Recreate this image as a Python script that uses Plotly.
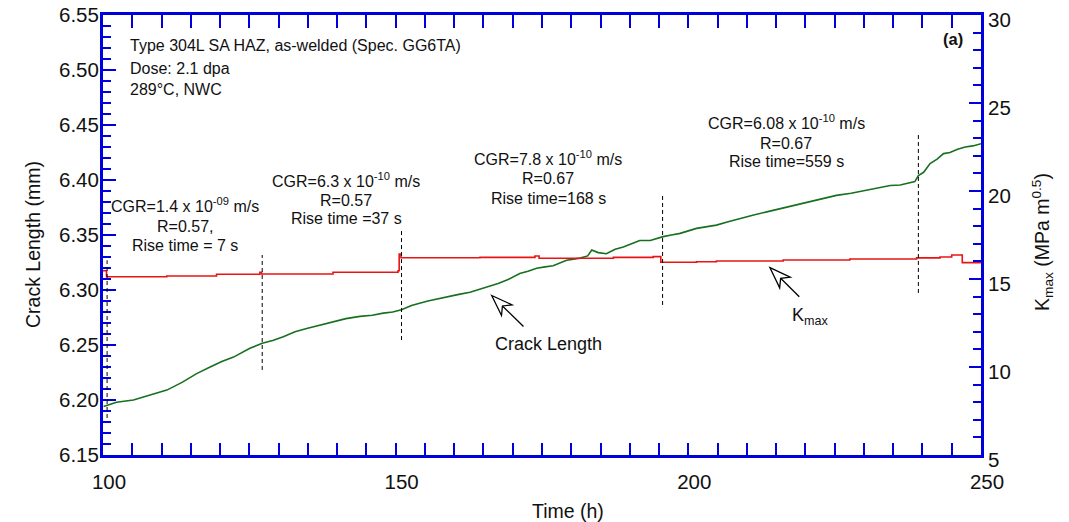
import math
import plotly.graph_objects as go

# ---------------- data ----------------
crack_time = [100.1, 102.3, 105.2, 108.0, 110.9, 113.5, 116.0, 118.3, 120.3, 122.3,
              125.1, 127.2, 129.0, 130.8, 132.8, 134.8, 137.0, 139.3, 141.5, 143.9,
              146.0, 147.9, 149.5, 151.0, 152.7, 155.5, 158.7, 160.8, 162.7, 164.5,
              166.1, 167.5, 169.0, 171.2, 172.6, 174.1, 175.5, 176.9, 179.2, 181.5,
              182.8, 183.5, 184.6, 186.0, 187.5, 188.9, 190.3, 191.7, 193.5, 195.7,
              197.1, 198.6, 201.4, 204.8, 206.8, 208.8, 211.0, 213.4, 215.7, 217.9,
              221.9, 225.3, 227.8, 230.5, 232.5, 234.5, 236.2, 238.7, 239.3, 240.2,
              241.3, 242.5, 243.6, 244.7, 246.0, 247.3, 248.6, 250.0]
crack_mm = [6.194, 6.198, 6.200, 6.2045, 6.209, 6.216, 6.224, 6.230, 6.235, 6.239,
            6.247, 6.2516, 6.254, 6.2576, 6.262, 6.265, 6.268, 6.271, 6.274, 6.276,
            6.277, 6.279, 6.280, 6.282, 6.286, 6.290, 6.294, 6.296, 6.298, 6.301,
            6.303, 6.306, 6.309, 6.315, 6.317, 6.3197, 6.321, 6.322, 6.327, 6.329,
            6.331, 6.3364, 6.334, 6.333, 6.337, 6.339, 6.342, 6.345, 6.345, 6.3485,
            6.350, 6.3515, 6.356, 6.359, 6.362, 6.365, 6.368, 6.371, 6.374, 6.377,
            6.382, 6.386, 6.388, 6.391, 6.393, 6.395, 6.3955, 6.3985, 6.404, 6.407,
            6.415, 6.419, 6.424, 6.425, 6.428, 6.430, 6.431, 6.433]

kmax_time = [100.0, 100.6, 110.9, 119.4, 126.8, 127.1, 139.3, 150.4, 150.6, 150.9,
             164.4, 173.8, 174.5, 187.2, 194.0, 195.3, 201.4, 204.8, 216.2, 227.6,
             239.0, 243.0, 245.0, 246.8, 250.0]
kmax_val = [15.47, 15.13, 15.17, 15.27, 15.38, 15.28, 15.38, 15.47, 16.42, 16.21,
            16.23, 16.31, 16.18, 16.23, 16.27, 15.95, 15.98, 16.02, 16.08, 16.14,
            16.20, 16.25, 16.36, 15.93, 15.93]

# condition changes (dashed markers): time, bottom, top (crack-length axis units)
change_time = [100.7, 127.2, 151.0, 195.6, 239.3]
change_low = [6.1836, 6.2273, 6.2545, 6.2864, 6.2973]
change_high = [6.327, 6.3318, 6.3545, 6.3864, 6.4418]

cgr_lines = [
    ["CGR=1.4 x 10<sup>-09</sup> m/s", "R=0.57,", "Rise time = 7 s"],
    ["CGR=6.3 x 10<sup>-10</sup> m/s", "R=0.57", "Rise time =37 s"],
    ["CGR=7.8 x 10<sup>-10</sup> m/s", "R=0.67", "Rise time=168 s"],
    ["CGR=6.08 x 10<sup>-10</sup> m/s", "R=0.67", "Rise time=559 s"],
]
info_lines = ["Type 304L SA HAZ, as-welded (Spec. GG6TA)", "Dose: 2.1 dpa", "289°C, NWC"]

x_ticks = [100, 150, 200, 250]
y_ticks = [6.15, 6.20, 6.25, 6.30, 6.35, 6.40, 6.45, 6.50, 6.55]
y2_ticks = [5, 10, 15, 20, 25, 30]

# ---------------- style ----------------
BLUE = "#0000dd"
GREEN = "#17701f"
RED = "#e81414"
FONT = "Liberation Sans, Arial, sans-serif"
W, H = 1069, 522
L, R, T, B = 103, 88, 15, 67
PW, PH = W - L - R, H - T - B


def px(xp, yp):
    return (xp - L) / PW, (H - B - yp) / PH


fig = go.Figure()
fig.add_trace(go.Scatter(x=kmax_time, y=kmax_val, yaxis="y2", mode="lines",
                         line=dict(color=RED, width=1.6, shape="hv"), showlegend=False))
fig.add_trace(go.Scatter(x=crack_time, y=crack_mm, mode="lines",
                         line=dict(color=GREEN, width=1.6), showlegend=False))

shapes = []
for t, lo, hi in zip(change_time, change_low, change_high):
    shapes.append(dict(type="line", xref="x", yref="y", x0=t, x1=t, y0=lo, y1=hi,
                       line=dict(color="black", width=1, dash="4px,3px")))


def arrow(tip_px, tail_px):
    # hollow arrow head drawn in pixel offsets around the tip
    tx, ty = tip_px
    dx, dy = tail_px[0] - tx, tail_px[1] - ty
    ln = math.hypot(dx, dy)
    ux, uy = dx / ln, dy / ln
    pxv, pyv = -uy, ux
    Lh, Wh, Nh = 21, 7.5, 15
    pts = [(0, 0), (Lh * ux + Wh * pxv, Lh * uy + Wh * pyv), (Nh * ux, Nh * uy),
           (Lh * ux - Wh * pxv, Lh * uy - Wh * pyv)]
    path = "M" + " L".join(f"{a:.2f},{-b:.2f}" for a, b in pts) + " Z"
    xa, ya = px(tx, ty)
    head = dict(type="path", xref="paper", yref="paper", xsizemode="pixel", ysizemode="pixel",
                xanchor=xa, yanchor=ya, path=path, fillcolor="white",
                line=dict(color="black", width=1.3))
    shaft = dict(type="path", xref="paper", yref="paper", xsizemode="pixel", ysizemode="pixel",
                 xanchor=xa, yanchor=ya,
                 path=f"M{Nh*ux:.2f},{-Nh*uy:.2f} L{dx:.2f},{-dy:.2f}",
                 line=dict(color="black", width=1.3))
    return [head, shaft]


shapes += arrow((491.7, 295.5), (523.5, 326.5))
shapes += arrow((770, 267.7), (799.3, 296.7))

ann = []


def text(s, xp, yp, size=16, xanchor="center", bold=False, angle=0):
    xa, ya = px(xp, yp)
    ann.append(dict(text=f"<b>{s}</b>" if bold else s, x=xa, y=ya, xref="paper", yref="paper",
                    xanchor=xanchor, yanchor="middle", showarrow=False, textangle=angle,
                    font=dict(family=FONT, size=size, color="#111")))


for s, yp in zip(info_lines, [46, 68, 89.5]):
    text(s, 128, yp, xanchor="left")

cgr_pos = [(185, [205, 226.5, 245]), (346, [180, 200.5, 218.5]),
           (548, [158, 179, 198]), (786, [121.5, 143, 161.5])]
for lines, (xc, ys) in zip(cgr_lines, cgr_pos):
    for s, yp in zip(lines, ys):
        text(s, xc, yp)

text("(a)", 953, 39.5, size=16.5, bold=True)
text("Crack Length", 548, 344, size=18)
text("K<sub>max</sub>", 790, 317, size=18, xanchor="left")
text("Time (h)", 568, 511, size=19.5)
text("Crack Length (mm)", 33, 245, size=19.5, angle=-90)
text("K<sub>max</sub> (MPa m<sup>0.5</sup>)", 1043, 242, size=19.5, angle=-90)

axis_common = dict(showline=True, linecolor=BLUE, linewidth=3, ticks="inside",
                   tickcolor=BLUE, tickwidth=2, ticklen=12.5, showgrid=False, zeroline=False,
                   automargin=False,
                   tickfont=dict(family=FONT, size=20.5, color="#111"))

fig.update_layout(
    width=W, height=H, autosize=False,
    margin=dict(l=L, r=R, t=T, b=B, pad=0, autoexpand=False),
    paper_bgcolor="white", plot_bgcolor="white",
    shapes=shapes, annotations=ann, showlegend=False,
    xaxis=dict(range=[100, 250], tickvals=x_ticks, mirror="allticks",
               minor=dict(dtick=5, tick0=100, ticks="inside", ticklen=8, tickwidth=2, tickcolor=BLUE),
               ticklabelshift=6, ticklabelstandoff=6, **axis_common),
    yaxis=dict(range=[6.15, 6.55], tickvals=y_ticks, tickformat=".2f", mirror=False,
               minor=dict(dtick=0.01, tick0=6.15, ticks="inside", ticklen=7.5, tickwidth=2, tickcolor=BLUE),
               ticklabelstandoff=-3, **axis_common),
    yaxis2=dict(range=[5, 30], tickvals=y2_ticks, overlaying="y", side="right",
                minor=dict(dtick=1, tick0=5, ticks="inside", ticklen=8, tickwidth=2, tickcolor=BLUE),
                ticklabelshift=5, ticklabelstandoff=0, **axis_common),
)

fig.write_html("out.html", config={"displayModeBar": False},
               post_script="document.body.style.margin='0';document.body.style.overflow='hidden';")
